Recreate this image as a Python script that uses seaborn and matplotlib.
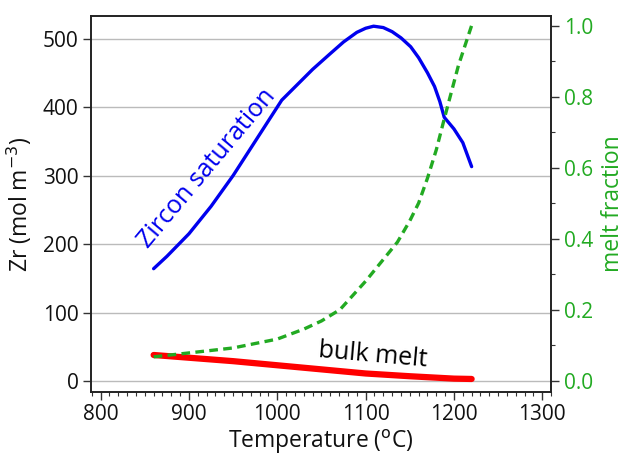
import matplotlib
matplotlib.use("Agg")
import matplotlib.pyplot as plt
import seaborn as sns
import pandas as pd
from matplotlib.ticker import MultipleLocator

# Data
zircon_T = [860, 875, 900, 925, 950, 975, 1005, 1026, 1040, 1060, 1075, 1090, 1100, 1109, 1120, 1130, 1140,
            1151, 1160, 1170, 1178, 1184, 1189, 1200, 1210, 1220]
zircon_Zr = [164, 182, 215, 255, 300, 350, 410, 437, 455, 478, 495, 509, 515, 518, 516, 510, 501,
             488, 472, 450, 430, 408, 385, 368, 348, 313]

bulk_T = [860, 900, 950, 1000, 1050, 1100, 1150, 1200, 1220]
bulk_Zr = [38, 34, 29, 23, 17, 11, 7, 3.5, 3]

melt_T = [860, 900, 950, 1000, 1030, 1050, 1071, 1100, 1136, 1150, 1160, 1170, 1180, 1189, 1205, 1220]
melt_frac = [0.067, 0.078, 0.092, 0.117, 0.145, 0.168, 0.20, 0.28, 0.39, 0.45, 0.50, 0.57, 0.65, 0.737, 0.887, 1.0]

x_ticks = [800, 900, 1000, 1100, 1200, 1300]
y_ticks = [0, 100, 200, 300, 400, 500]
y2_ticks = [0.0, 0.2, 0.4, 0.6, 0.8, 1.0]

sns.set_style("white")
plt.rcParams['font.family'] = ['Open Sans', 'DejaVu Sans']
plt.rcParams['text.color'] = '#111111'
plt.rcParams['axes.labelcolor'] = '#111111'
plt.rcParams['xtick.color'] = '#111111'
plt.rcParams['ytick.color'] = '#111111'

green = '#22aa22'
blue = '#0000ee'

fig = plt.figure(figsize=(6.27, 4.55), dpi=100)
ax = fig.add_axes([0.145, 0.1385, 0.734, 0.8265])
ax2 = ax.twinx()

zdf = pd.DataFrame({'T': zircon_T, 'Zr': zircon_Zr})
bdf = pd.DataFrame({'T': bulk_T, 'Zr': bulk_Zr})
mdf = pd.DataFrame({'T': melt_T, 'f': melt_frac})

sns.lineplot(data=zdf, x='T', y='Zr', ax=ax, color=blue, linewidth=2.4)
sns.lineplot(data=bdf, x='T', y='Zr', ax=ax, color='#ff0000', linewidth=4.5)
sns.lineplot(data=mdf, x='T', y='f', ax=ax2, color=green, linewidth=2.4, linestyle=(0, (2.6, 1.6)))

ax.set_xlim(789, 1310)
ax.set_ylim(-16, 533)
ax2.set_ylim(-0.032, 1.027)

ax.set_xticks(x_ticks)
ax.set_yticks(y_ticks)
ax2.set_yticks(y2_ticks)
ax2.set_yticklabels([f"{v:.1f}" for v in y2_ticks])
ax.xaxis.set_minor_locator(MultipleLocator(10))
ax2.yaxis.set_minor_locator(MultipleLocator(0.1))

ax.grid(True, axis='y', color='#bbbbbb', linewidth=1.0)
ax.set_axisbelow(True)

ax.tick_params(axis='x', which='major', direction='out', length=6, width=1, labelsize=15, bottom=True, color='#333333', pad=3)
ax.tick_params(axis='x', which='minor', direction='out', length=3, width=0.8, bottom=True, color='#333333')
ax.tick_params(axis='y', which='major', direction='out', length=6, width=1, labelsize=15, left=True, color='#333333', pad=3)
ax2.tick_params(axis='y', which='major', direction='out', length=6, width=1, labelsize=15, right=True, labelcolor=green, color='#333333', pad=3)
ax2.tick_params(axis='y', which='minor', direction='out', length=3, width=0.8, right=True, color='#333333')

for a in (ax, ax2):
    for s in a.spines.values():
        s.set_visible(True)
        s.set_color('#222222')
        s.set_linewidth(1.2)

ax.set_xlabel('Temperature ($^{\\mathrm{o}}$C)', fontsize=16.5, labelpad=2)
ax.set_ylabel('Zr (mol m$^{-3}$)', fontsize=16.5, labelpad=6)
ax2.set_ylabel('melt fraction', fontsize=16.5, color=green, labelpad=6)

ax.text(920, 310, 'Zircon saturation', color=blue, fontsize=18, rotation=50,
        rotation_mode='anchor', ha='center', va='center')
ax.text(1108, 38, 'bulk melt', color='black', fontsize=18, rotation=-5,
        rotation_mode='anchor', ha='center', va='center')

fig.savefig('out.png', dpi=100)
